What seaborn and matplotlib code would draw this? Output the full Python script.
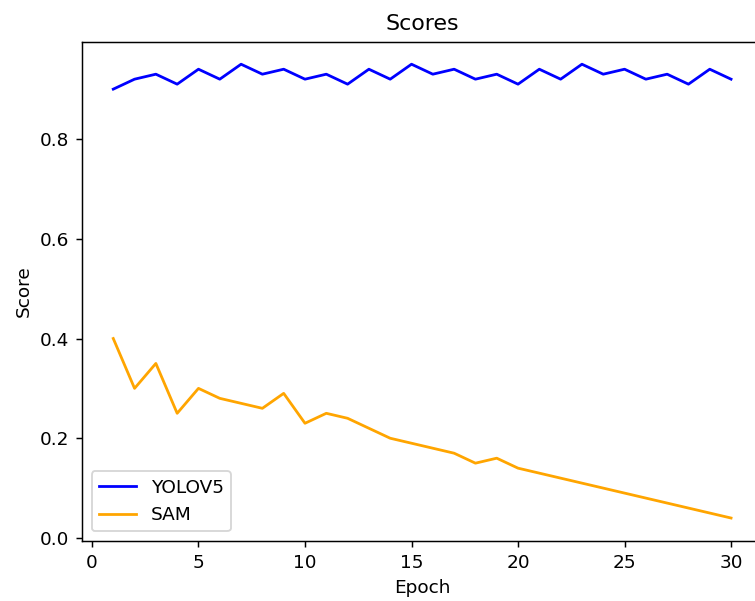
import matplotlib
matplotlib.use("Agg")
import matplotlib.pyplot as plt
import seaborn as sns
import pandas as pd

epochs = list(range(1, 31))
yolov5 = [0.90, 0.92, 0.93, 0.91, 0.94, 0.92, 0.95, 0.93, 0.94, 0.92,
          0.93, 0.91, 0.94, 0.92, 0.95, 0.93, 0.94, 0.92, 0.93, 0.91,
          0.94, 0.92, 0.95, 0.93, 0.94, 0.92, 0.93, 0.91, 0.94, 0.92]
sam = [0.40, 0.30, 0.35, 0.25, 0.30, 0.28, 0.27, 0.26, 0.29, 0.23,
       0.25, 0.24, 0.22, 0.20, 0.19, 0.18, 0.17, 0.15, 0.16, 0.14,
       0.13, 0.12, 0.11, 0.10, 0.09, 0.08, 0.07, 0.06, 0.05, 0.04]

df = pd.DataFrame({
    "Epoch": epochs * 2,
    "Score": yolov5 + sam,
    "Model": ["YOLOV5"] * len(epochs) + ["SAM"] * len(epochs),
})

DPI = 133
fig = plt.figure(figsize=(755 / DPI, 601 / DPI), dpi=DPI)
ax = fig.add_axes([0.1091, 0.1003, 0.9001, 0.8306])
sns.lineplot(data=df, x="Epoch", y="Score", hue="Model",
             palette={"YOLOV5": "blue", "SAM": "orange"}, ax=ax)
ax.set_title("Scores")
ax.set_xlabel("Epoch")
ax.set_ylabel("Score")
ax.legend(loc="lower left")
fig.savefig("out.png", dpi=DPI)
